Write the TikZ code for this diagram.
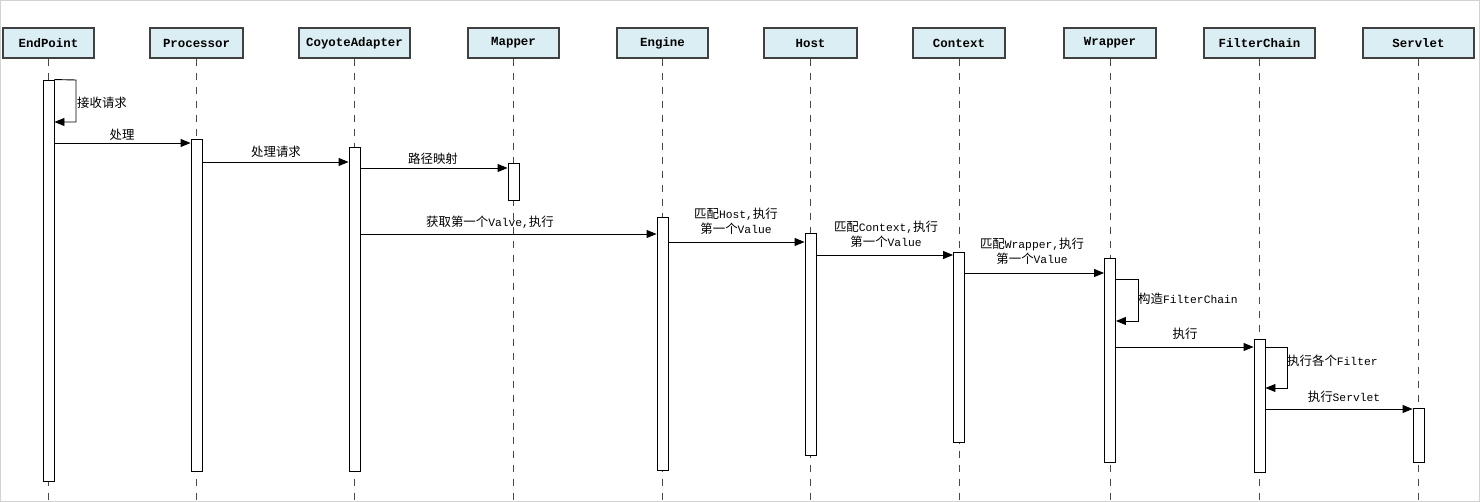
\documentclass[tikz,border=0pt]{standalone}
\usepackage{fontspec}
\setmainfont{Liberation Mono}
\newfontfamily\cjkf[Scale=1.1]{Noto Sans CJK SC}
\newfontfamily\hdrf{Liberation Mono}
\newcommand\zh[1]{{\cjkf #1}}
\usetikzlibrary{arrows.meta}
\definecolor{hdrfill}{HTML}{DAEEF3}
\definecolor{hdrline}{HTML}{404040}
\definecolor{lifeline}{HTML}{484848}
\begin{document}
\begin{tikzpicture}[x=1pt,y=-1pt,
  hdr/.style={draw=hdrline, line width=1.1pt, fill=hdrfill, minimum height=30pt, inner sep=0pt,
    font=\hdrf\fontsize{12.4}{14}\selectfont\bfseries},
  life/.style={draw=lifeline, line width=0.9pt, dash pattern=on 7pt off 7pt},
  actbar/.style={draw=black, line width=0.9pt, fill=white, minimum width=11pt, inner sep=0pt},
  msg/.style={draw=black, line width=0.9pt, -{Triangle[length=10pt,width=8pt]}},
  lbl/.style={inner sep=0pt, font=\fontsize{11.3}{15}\selectfont, align=center}]
\useasboundingbox (0,0) rectangle (1480,502);
\draw[gray!35, line width=1pt] (0.5,0.5) rectangle (1479.5,501.5);

% headers
\node[hdr, minimum width=91pt]  (ep) at (48.5,43)  {EndPoint};
\node[hdr, minimum width=93pt]  (pr) at (196.5,43) {Processor};
\node[hdr, minimum width=111pt] (ca) at (354.5,43) {CoyoteAdapter};
\node[hdr, minimum width=91pt]  (ma) at (513.5,43) {Mapper};
\node[hdr, minimum width=91pt]  (en) at (662.5,43) {Engine};
\node[hdr, minimum width=93pt]  (ho) at (810.5,43) {Host};
\node[hdr, minimum width=92pt]  (co) at (959,43)   {Context};
\node[hdr, minimum width=92pt]  (wr) at (1110,43)  {Wrapper};
\node[hdr, minimum width=111pt] (fc) at (1259.5,43) {FilterChain};
\node[hdr, minimum width=111pt] (se) at (1418.5,43) {Servlet};

% lifeline ends
\foreach \n in {ep,pr,ca,ma,en,ho,co,wr,fc,se}{
  \coordinate (\n end) at (\n.south |- 0,502);
  \draw[life] (\n.south) -- (\n end);
}

% activation bars
\node[actbar, minimum height=401pt] (bep) at (48.5,280.5) {};
\node[actbar, minimum height=332pt] (bpr) at (196.5,305) {};
\node[actbar, minimum height=324pt] (bca) at (354.5,309) {};
\node[actbar, minimum height=37pt]  (bma) at (513.5,181.5) {};
\node[actbar, minimum height=253pt] (ben) at (662.5,343.5) {};
\node[actbar, minimum height=222pt] (bho) at (810.5,344) {};
\node[actbar, minimum height=190pt] (bco) at (959,347) {};
\node[actbar, minimum height=204pt] (bwr) at (1110,360) {};
\node[actbar, minimum height=133pt] (bfc) at (1259.5,405.5) {};
\node[actbar, minimum height=54pt]  (bse) at (1418.5,435) {};

% message levels
\coordinate (y1) at (0,143);
\coordinate (y2) at (0,162);
\coordinate (y3) at (0,168);
\coordinate (y4) at (0,234);
\coordinate (y5) at (0,242);
\coordinate (y6) at (0,255);
\coordinate (y7) at (0,273);
\coordinate (y8) at (0,347);
\coordinate (y9) at (0,409);

% self message: EndPoint
\coordinate (s1a) at (76,80);
\coordinate (s1b) at (76,122);
\draw[msg] (bep.north east) -- (s1a) -- (s1b) -- (bep.east |- s1b);
\node[lbl, anchor=west] (l0) at (77,103) {\zh{接收请求}};

% messages
\draw[msg] (bep.east |- y1) -- (bpr.west |- y1);
\node[lbl] (l1) at (122,135) {\zh{处理}};
\draw[msg] (bpr.east |- y2) -- (bca.west |- y2);
\node[lbl] (l2) at (276,152) {\zh{处理请求}};
\draw[msg] (bca.east |- y3) -- (bma.west |- y3);
\node[lbl] (l3) at (433,159) {\zh{路径映射}};
\draw[msg] (bca.east |- y4) -- (ben.west |- y4);
\node[lbl] (l4) at (490,222) {\zh{获取第一个}Valve,\zh{执行}};
\draw[msg] (ben.east |- y5) -- (bho.west |- y5);
\node[lbl] (l5) at (736,221.5) {\zh{匹配}Host,\zh{执行}\\\zh{第一个}Value};
\draw[msg] (bho.east |- y6) -- (bco.west |- y6);
\node[lbl] (l6) at (886,234.5) {\zh{匹配}Context,\zh{执行}\\\zh{第一个}Value};
\draw[msg] (bco.east |- y7) -- (bwr.west |- y7);
\node[lbl] (l7) at (1032,251.5) {\zh{匹配}Wrapper,\zh{执行}\\\zh{第一个}Value};

% self message: Wrapper
\coordinate (s2a) at (1138,279);
\coordinate (s2b) at (1138,321);
\draw[msg] (bwr.east |- s2a) -- (s2a) -- (s2b) -- (bwr.east |- s2b);
\node[lbl, anchor=west] (l8) at (1138,299) {\zh{构造}FilterChain};

\draw[msg] (bwr.east |- y8) -- (bfc.west |- y8);
\node[lbl] (l9) at (1185,334) {\zh{执行}};

% self message: FilterChain
\coordinate (s3a) at (1287,347);
\coordinate (s3b) at (1287,388);
\draw[msg] (bfc.east |- s3a) -- (s3a) -- (s3b) -- (bfc.east |- s3b);
\node[lbl, anchor=west] (l10) at (1287,361) {\zh{执行各个}Filter};

\draw[msg] (bfc.east |- y9) -- (bse.west |- y9);
\node[lbl] (l11) at (1344,397) {\zh{执行}Servlet};
\end{tikzpicture}
\end{document}
